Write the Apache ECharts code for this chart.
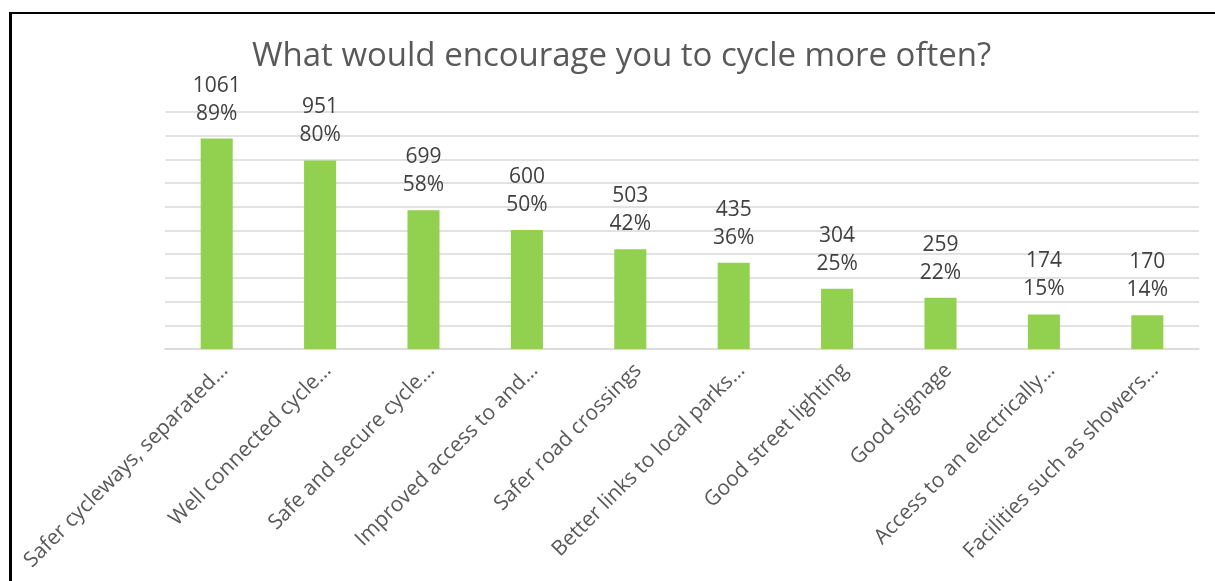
<!DOCTYPE html>
<html>
<head>
<meta charset="utf-8">
<script src="https://cdn.jsdelivr.net/npm/echarts@6/dist/echarts.min.js"></script>
<style>
  html, body { margin: 0; padding: 0; background: #fff; }
  #chart { width: 1215px; height: 581px; }
</style>
</head>
<body>
<div id="chart"></div>
<script>
var categories = [
  'Safer cycleways, separated…',
  'Well connected cycle…',
  'Safe and secure cycle…',
  'Improved access to and…',
  'Safer road crossings',
  'Better links to local parks…',
  'Good street lighting',
  'Good signage',
  'Access to an electrically…',
  'Facilities such as showers…'
];
var counts = [1061, 951, 699, 600, 503, 435, 304, 259, 174, 170];
var percents = ['89%', '80%', '58%', '50%', '42%', '36%', '25%', '22%', '15%', '14%'];
// total respondents, used as the axis top (100%)
var totalResponses = 1195;

var chartDom = document.getElementById('chart');
var myChart = echarts.init(chartDom);
var option;

option = {
  animation: false,
  title: {
    text: 'What would encourage you to cycle more often?',
    left: 247,
    top: 35,
    textStyle: {
      fontFamily: 'Open Sans',
      fontSize: 33,
      fontWeight: 'normal',
      color: '#595959'
    }
  },
  grid: {
    left: 165,
    right: 16,
    top: 112,
    bottom: 232
  },
  xAxis: {
    type: 'category',
    data: categories,
    axisTick: { show: false },
    axisLine: { lineStyle: { color: '#D9D9D9', width: 1.5 } },
    axisLabel: {
      rotate: 45,
      interval: 0,
      margin: 26,
      padding: [0, -11, 0, 0],
      fontFamily: 'Open Sans',
      fontSize: 21,
      color: '#595959'
    }
  },
  yAxis: {
    type: 'value',
    min: 0,
    max: totalResponses,
    interval: totalResponses / 10,
    axisLabel: { show: false },
    axisLine: { show: false },
    axisTick: { show: false },
    splitLine: { lineStyle: { color: '#D9D9D9', width: 1.5 } }
  },
  graphic: [
    { type: 'line', shape: { x1: 10.5, y1: 13, x2: 1215, y2: 13 }, style: { stroke: '#000', lineWidth: 2 } },
    { type: 'line', shape: { x1: 10.5, y1: 12, x2: 10.5, y2: 581 }, style: { stroke: '#000', lineWidth: 3 } }
  ],
  series: [
    {
      type: 'bar',
      data: counts,
      barWidth: '31%',
      itemStyle: { color: '#92D050' },
      label: {
        show: true,
        position: 'top',
        distance: 11,
        fontFamily: 'Open Sans',
        fontSize: 21,
        lineHeight: 28,
        color: '#404040',
        formatter: function (p) {
          return counts[p.dataIndex] + '\n' + percents[p.dataIndex];
        }
      }
    }
  ]
};

option && myChart.setOption(option);
</script>
</body>
</html>
